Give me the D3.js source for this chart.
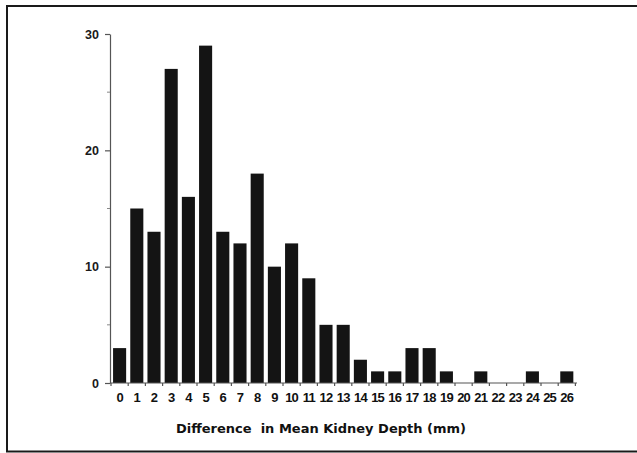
<!DOCTYPE html>
<html>
<head>
<meta charset="utf-8">
<script src="https://cdn.jsdelivr.net/npm/d3@7"></script>
<style>
  html, body { margin: 0; padding: 0; background: #fff; }
  svg { display: block; }
</style>
</head>
<body>
<div id="container"></div>
<script>
const width = 637, height = 453;

// --- Data ---
const depthDiff = d3.range(0, 27);            // mm, categories 0..26
const counts = [3, 15, 13, 27, 16, 29, 13, 12, 18, 10, 12, 9, 5, 5, 2, 1, 1, 3, 3, 1, 0, 1, 0, 0, 1, 0, 1];
const yTicks = [0, 10, 20, 30];
const yMinorTicks = [5, 15, 25];
const xTitle = "Difference  in Mean Kidney Depth (mm)";

const svg = d3.select("#container").append("svg")
  .attr("width", width).attr("height", height);

svg.append("rect").attr("width", width).attr("height", height).attr("fill", "#fff");

// Frame around the figure (right edge runs off the image)
svg.append("rect")
  .attr("x", 7).attr("y", 6).attr("width", 640).attr("height", 445.5)
  .attr("fill", "none").attr("stroke", "#1a1a1a").attr("stroke-width", 2);

// --- Scales ---
const x = d3.scaleBand().domain(depthDiff).range([111, 575.4])
  .paddingInner(0.24).paddingOuter(0.12);
const y = d3.scaleLinear().domain([0, 30]).range([383, 34]);

const font = "'Liberation Sans', Arial, sans-serif";

// --- Bars ---
svg.append("g").selectAll("rect").data(depthDiff).join("rect")
  .attr("x", d => x(d))
  .attr("y", d => y(counts[d]))
  .attr("width", x.bandwidth())
  .attr("height", d => y(0) - y(counts[d]))
  .attr("fill", "#141414");

// --- Y axis ---
const yAx = svg.append("g").attr("transform", `translate(${110},0)`)
  .call(d3.axisLeft(y).tickValues(yTicks).tickSize(5).tickSizeOuter(0).tickPadding(6));
yAx.select(".domain").attr("stroke", "#555").attr("stroke-width", 1.2);
yAx.selectAll(".tick line").attr("stroke", "#555").attr("stroke-width", 1.2);
yAx.selectAll("text").attr("fill", "#1a1a1a")
  .style("font-family", font).style("font-size", "12.5px").style("font-weight", "bold");
yAx.selectAll(".minor").data(yMinorTicks).join("line")
  .attr("class", "minor")
  .attr("x1", -3).attr("x2", 0).attr("y1", d => y(d)).attr("y2", d => y(d))
  .attr("stroke", "#888").attr("stroke-width", 1);

// --- X axis: line with ticks at band boundaries ---
const xAxisG = svg.append("g");
xAxisG.append("line")
  .attr("x1", 110).attr("x2", 577).attr("y1", y(0)).attr("y2", y(0))
  .attr("stroke", "#555").attr("stroke-width", 1.2);
const bounds = depthDiff.map(d => x(d) - x.step() * x.paddingInner() / 2);
bounds.push(x(26) + x.bandwidth() + x.step() * x.paddingInner() / 2);
xAxisG.selectAll(".bt").data(bounds).join("line")
  .attr("class", "bt")
  .attr("x1", d => d).attr("x2", d => d)
  .attr("y1", y(0)).attr("y2", y(0) + 3)
  .attr("stroke", "#555").attr("stroke-width", 1.2);
xAxisG.selectAll("text").data(depthDiff).join("text")
  .attr("x", d => x(d) + x.bandwidth() / 2)
  .attr("y", 402)
  .attr("text-anchor", "middle")
  .attr("fill", "#111")
  .style("font-family", font).style("font-size", "13px").style("font-weight", "bold")
  .style("letter-spacing", "-0.8px")
  .text(d => d);

// --- X axis title ---
svg.append("text")
  .attr("x", 321).attr("y", 433)
  .attr("text-anchor", "middle")
  .attr("fill", "#111")
  .style("font-family", "'DejaVu Sans', sans-serif").style("font-size", "13px").style("font-weight", "bold")
  .style("white-space", "pre")
  .text(xTitle);
</script>
</body>
</html>
